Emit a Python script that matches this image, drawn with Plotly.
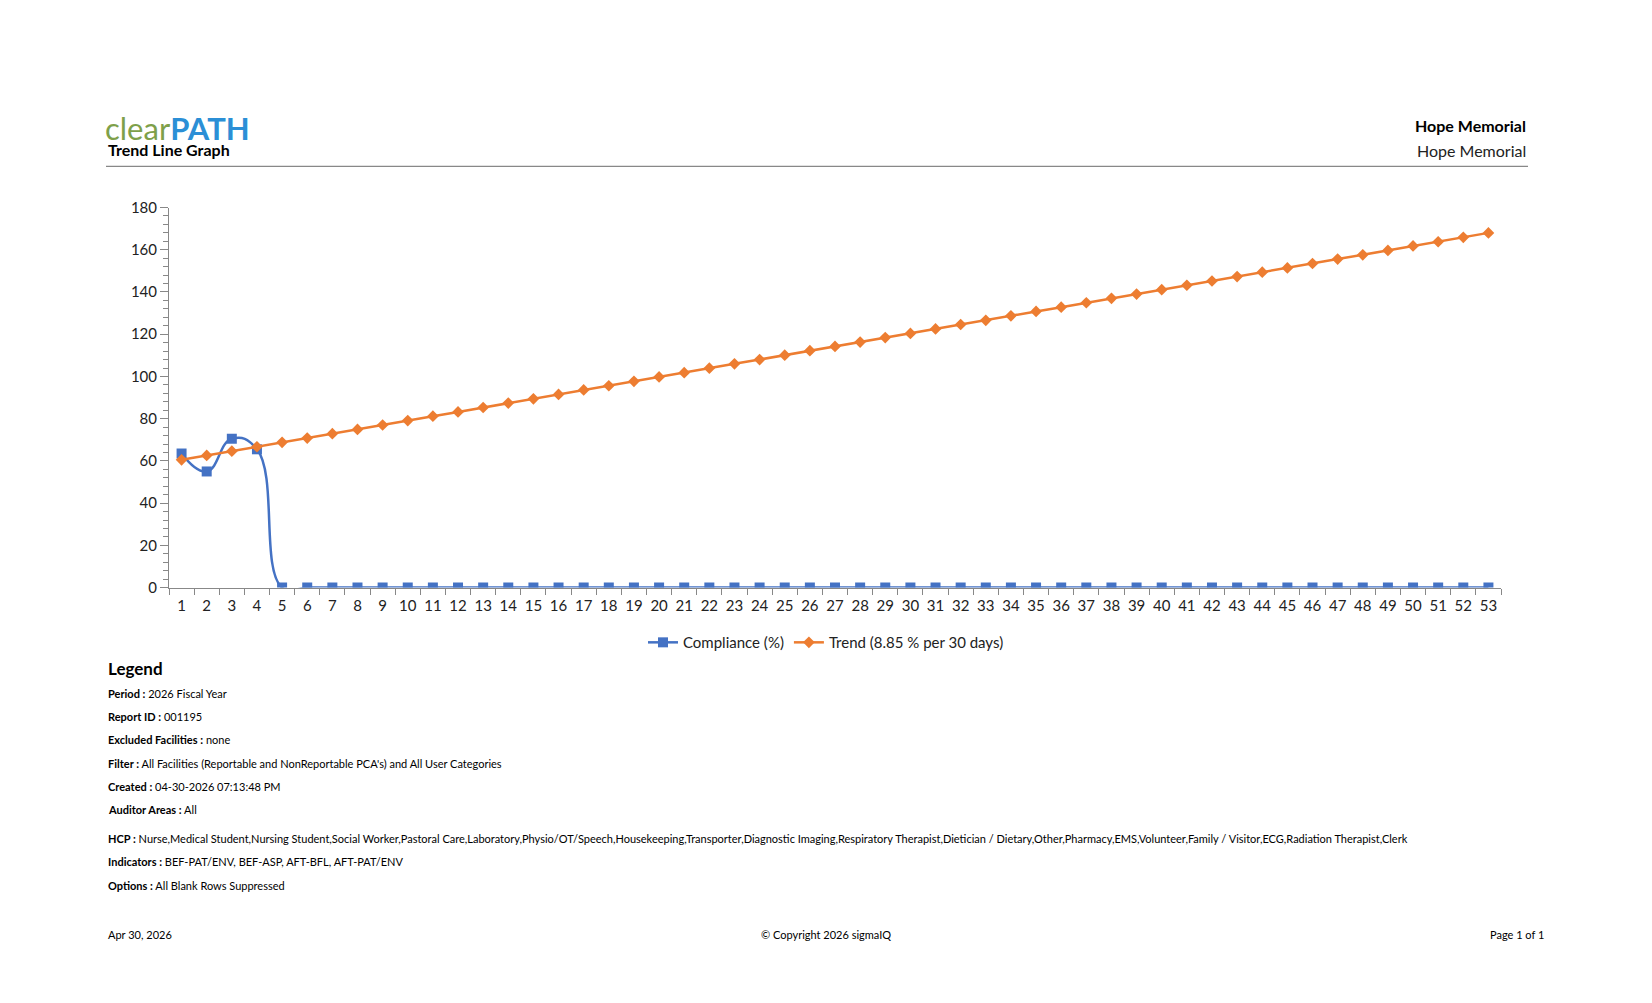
import plotly.graph_objects as go

W, H = 1652, 1003
# the page shows the figure with a small body offset; draw in page pixels minus that offset
OX, OY = 8, 15

weeks = list(range(1, 54))
compliance = [63.5, 55.0, 70.5, 65.5] + [0.0] * 49
trend = [60.5, 62.6, 64.6, 66.7, 68.8, 70.8, 72.9, 74.9, 77.0, 79.1, 81.2, 83.2, 85.3, 87.4,
         89.4, 91.5, 93.6, 95.6, 97.7, 99.8, 101.8, 103.9, 106.0, 108.0, 110.1, 112.2, 114.2,
         116.3, 118.4, 120.4, 122.5, 124.6, 126.6, 128.7, 130.8, 132.8, 134.9, 137.0, 139.0,
         141.1, 143.2, 145.2, 147.3, 149.4, 151.4, 153.5, 155.6, 157.6, 159.7, 161.8, 163.8,
         165.9, 168.0]

legend_rows = [
    ("Period", "2026 Fiscal Year"),
    ("Report ID", "001195"),
    ("Excluded Facilities", "none"),
    ("Filter", "All Facilities (Reportable and NonReportable PCA's) and All User Categories"),
    ("Created", "04-30-2026 07:13:48 PM"),
    ("Auditor Areas", "All"),
    ("HCP", "Nurse,Medical Student,Nursing Student,Social Worker,Pastoral Care,Laboratory,Physio/OT/Speech,Housekeeping,Transporter,Diagnostic Imaging,Respiratory Therapist,Dietician / Dietary,Other,Pharmacy,EMS,Volunteer,Family / Visitor,ECG,Radiation Therapist,Clerk"),
    ("Indicators", "BEF-PAT/ENV, BEF-ASP, AFT-BFL, AFT-PAT/ENV"),
    ("Options", "All Blank Rows Suppressed"),
]
row_y = [703, 726, 750, 774, 798, 821, 850, 874, 898]

BLUE = "#4472c4"
ORANGE = "#ed7d31"
FONT = "Lato, Carlito, sans-serif"


def px(x):
    return (x - OX) / W


def py(y):
    return 1 - (y - OY) / H


fig = go.Figure()
fig.add_trace(go.Scatter(x=weeks, y=compliance, name="Compliance (%)", mode="lines+markers",
                         line=dict(color=BLUE, width=2.5, shape="spline", smoothing=1.3),
                         marker=dict(symbol="square", size=10, color=BLUE)))
fig.add_trace(go.Scatter(x=weeks, y=trend, name="Trend (8.85 % per 30 days)", mode="lines+markers",
                         line=dict(color=ORANGE, width=2.5),
                         marker=dict(symbol="diamond", size=9, color=ORANGE)))

fig.update_xaxes(domain=[px(169), px(1501)], range=[0.5, 53.5], tickvals=weeks,
                 showgrid=False, zeroline=False, showline=True, linecolor="#888",
                 layer="below traces", ticks="", ticklabelstandoff=4,
                 tickfont=dict(size=15, color="#222"),
                 minor=dict(tickvals=[w + 0.5 for w in range(0, 54)], ticks="outside",
                            ticklen=6, tickcolor="#888"))
fig.update_yaxes(domain=[py(595), py(208)], range=[0, 180], dtick=20,
                 showgrid=False, zeroline=False, showline=True, linecolor="#888",
                 layer="below traces", ticks="outside", ticklen=8, tickcolor="#888",
                 tickfont=dict(size=15, color="#222"),
                 minor=dict(dtick=4, ticks="outside", ticklen=5, tickcolor="#888"))

ann = []


def text(x, y, s, size=12, anchor="left", color="#000"):
    ann.append(dict(x=px(x), y=py(y), xref="paper", yref="paper", text=s, showarrow=False,
                    xanchor=anchor, yanchor="middle", font=dict(size=size, color=color, family=FONT)))


text(103, 127, "<span style='color:#7ea04a'>clear</span><span style='color:#2b8fd6'><b>PATH</b></span>", size=31)
text(106, 149, "<b>Trend Line Graph</b>", size=16)
text(1528, 124, "<b>Hope Memorial</b>", size=16, anchor="right")
text(1528, 150, "Hope Memorial", size=16, anchor="right", color="#222")
text(106, 677, "<b>Legend</b>", size=17)
for (k, v), y in zip(legend_rows, row_y):
    text(106, y, "<b>%s :</b> %s" % (k, v), size=11)
text(106, 948, "Apr 30, 2026", size=11)
text(826, 948, "© Copyright 2026 sigmaIQ", size=11, anchor="center")
text(1546, 948, "Page 1 of 1", size=11, anchor="right")

fig.update_layout(
    width=W, height=H, margin=dict(l=0, r=0, t=0, b=0),
    plot_bgcolor="white", paper_bgcolor="white", font=dict(family=FONT),
    annotations=ann,
    legend=dict(orientation="h", x=px(826), xanchor="center", y=py(651), yanchor="middle",
                font=dict(size=15, color="#222")),
    shapes=[
        dict(type="line", xref="paper", yref="paper", x0=px(106), x1=px(1528), y0=py(166), y1=py(166),
             line=dict(color="#888", width=1.2)),
    ],
)

fig.write_html("out.html")
